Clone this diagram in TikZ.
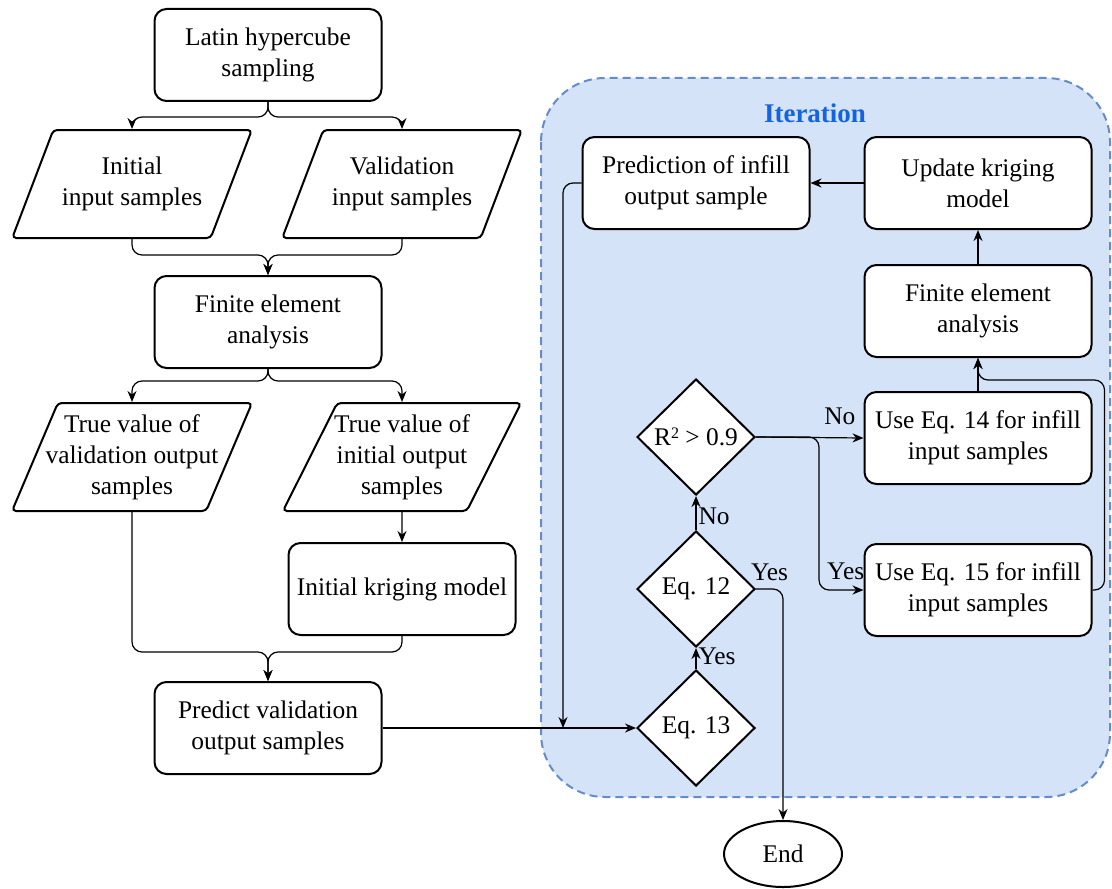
\documentclass[tikz,border=0pt]{standalone}
\usepackage{fontspec}
\setmainfont{Liberation Serif}
\usetikzlibrary{shapes.geometric,arrows.meta}
\definecolor{iterfill}{RGB}{213,227,249}
\definecolor{iterdash}{RGB}{101,140,199}
\definecolor{iterblue}{RGB}{18,100,224}

\begin{document}
\begin{tikzpicture}[x=0.5pt,y=-0.5pt,font=\fontsize{12.7}{15.5}\selectfont]
	\tikzset{box/.style={draw,line width=1pt,rounded corners=6pt,fill=white,align=center,minimum width=113.5pt,minimum height=46pt,inner sep=2pt}}
	\tikzset{data/.style={draw,line width=1pt,trapezium,trapezium left angle=64,trapezium right angle=116,trapezium stretches=true,rounded corners=2pt,fill=white,align=center,minimum width=120pt,minimum height=54pt,inner ysep=1pt,inner xsep=-8pt}}
	\tikzset{test/.style={draw,line width=1pt,diamond,aspect=1,fill=white,minimum width=59pt,minimum height=58pt,inner sep=0pt}}
	\tikzset{conn/.style={line width=0.6pt,rounded corners=5pt,-{Stealth[length=5.5pt,width=4.5pt]}}}
	\tikzset{lbl/.style={inner sep=1pt}}
	\useasboundingbox (0,0) rectangle (1112,888);
	% iteration region
	\draw[iterdash,fill=iterfill,line width=1pt,dash pattern=on 4pt off 2.5pt,rounded corners=32pt] (541,78) rectangle (1110,797);
	\node[text=iterblue,font=\bfseries\fontsize{13.5}{16}\selectfont] (iter) at (815,113) {Iteration};
	% left column
	\node[box] (lhs) at (268,55) {Latin hypercube\\sampling};
	\node[data] (ini) at (132,184) {Initial\\input samples};
	\node[data] (val) at (402,184) {Validation\\input samples};
	\node[box] (fea) at (268,322) {Finite element\\analysis};
	\node[data] (valout) at (132,457) {True value of\\validation output\\samples};
	\node[data] (iniout) at (402,457) {True value of\\initial output\\samples};
	\node[box] (kri) at (402,589) {Initial kriging model};
	\node[box] (pred) at (268,728) {Predict validation\\output samples};
	% iteration loop
	\node[box] (pinf) at (696,183) {Prediction of infill\\output sample};
	\node[box] (upd) at (978,183) {Update kriging\\model};
	\node[box] (fea2) at (978,311) {Finite element\\analysis};
	\node[box] (use14) at (978,438) {Use Eq. 14 for infill\\input samples};
	\node[box] (use15) at (978,590) {Use Eq. 15 for infill\\input samples};
	\node[test] (r2) at (696,437) {R\raisebox{0.55ex}{\fontsize{8}{8}\selectfont 2} > 0.9};
	\node[test] (eq12) at (696,589) {Eq. 12};
	\node[test] (eq13) at (696,728) {Eq. 13};
	\node[draw,ellipse,line width=1pt,minimum width=59pt,minimum height=33pt,inner sep=0pt] (end) at (783,854) {End};
	\coordinate (join) at (563,728);
	% connectors
	\draw[conn] (lhs.south) -- ++(0,15) -| (ini.north);
	\draw[conn] (lhs.south) -- ++(0,15) -| (val.north);
	\draw[conn] (ini.south) -- ++(0,16) -| (fea.north);
	\draw[conn] (val.south) -- ++(0,16) -| (fea.north);
	\draw[conn] (fea.south) -- ++(0,12) -| (valout.north);
	\draw[conn] (fea.south) -- ++(0,12) -| (iniout.north);
	\draw[conn] (iniout.south) -- (kri.north);
	\draw[conn] (valout.south) -- ++(0,140) -| (pred.north);
	\draw[conn] (kri.south) -- ++(0,16) -| (pred.north);
	\draw[conn] (pred.east) -- (eq13.west);
	\draw[conn] (pinf.west) -| (join);
	\draw[conn] (eq13.north) -- node[right,lbl,pos=0.6] {Yes} (eq12.south);
	\draw[conn] (eq12.north) -- node[right,lbl,pos=0.4] {No} (r2.south);
	\draw[conn] (eq12.east) -| node[above=3pt,lbl,pos=0.25] {Yes} (end.north);
	\draw[conn] (r2.east) -- node[above=5pt,lbl,pos=0.78] {No} (use14.west);
	\draw[conn] (r2.east) -- ++(63,0) |- node[above=4pt,lbl,pos=0.8] {Yes} (use15.west);
	\draw[conn] (use15.east) -- ++(12,0) |- ([yshift=5.5pt]use14.north) -- (fea2.south);
	\draw[conn] (use14.north) -- (fea2.south);
	\draw[conn] (fea2.north) -- (upd.south);
	\draw[conn] (upd.west) -- (pinf.east);
\end{tikzpicture}
\end{document}
